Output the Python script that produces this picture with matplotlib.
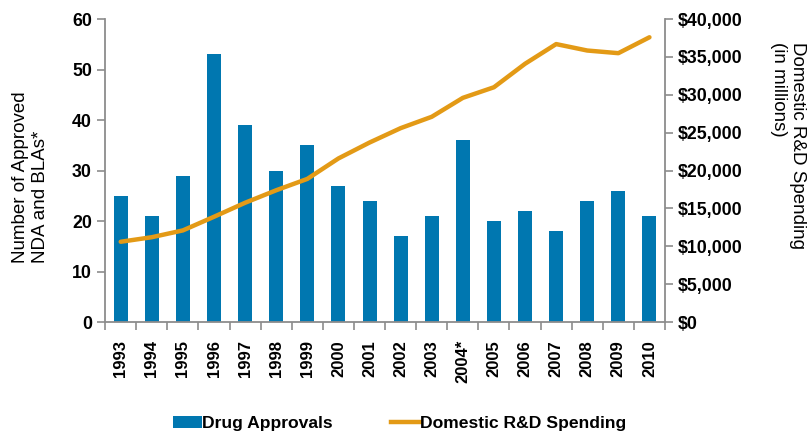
import matplotlib
matplotlib.use("Agg")
import matplotlib.pyplot as plt
import numpy as np
from matplotlib.lines import Line2D
from matplotlib.patches import Patch

# ── data ────────────────────────────────────────────────────────────────────
years = ["1993", "1994", "1995", "1996", "1997", "1998", "1999", "2000", "2001",
         "2002", "2003", "2004*", "2005", "2006", "2007", "2008", "2009", "2010"]
approvals = [25, 21, 29, 53, 39, 30, 35, 27, 24, 17, 21, 36, 20, 22, 18, 24, 26, 21]
rd_spending = [10600, 11200, 12100, 13900, 15750, 17400, 18900, 21600, 23700,
               25600, 27100, 29600, 31000, 34100, 36700, 35850, 35500, 37600]

BLUE = "#0077B0"
ORANGE = "#E39A16"
GREY = "#8C8C8C"

plt.rcParams["font.family"] = ["Liberation Sans", "DejaVu Sans"]

fig = plt.figure(figsize=(8.09, 4.34), dpi=100)
ax = fig.add_axes([0.130, 0.258, 0.692, 0.698])
ax2 = ax.twinx()

x = np.arange(len(years))
ax.bar(x, approvals, width=0.45, color=BLUE, zorder=2)
ax2.plot(x, rd_spending, color=ORANGE, lw=3.2, solid_capstyle="round", zorder=3)

ax.set_xlim(-0.5, len(years) - 0.5)
ax.set_ylim(0, 60)
ax2.set_ylim(0, 40000)
ax.set_yticks(range(0, 61, 10))
ax2.set_yticks(range(0, 40001, 5000))
ax2.set_yticklabels([f"${v:,}" for v in range(0, 40001, 5000)])

# category ticks on boundaries, labels centred under bars
ax.set_xticks(np.arange(-0.5, len(years), 1.0))
ax.set_xticklabels([])
ax.set_xticks(x, minor=True)
ax.set_xticklabels(years, minor=True, rotation=90, fontweight="bold", fontsize=12)
ax.tick_params(axis="x", which="minor", length=0, pad=13)
ax.tick_params(axis="x", which="major", length=6, color=GREY, width=1.2)

for a in (ax, ax2):
    a.spines["top"].set_visible(False)
    for s in ("left", "right", "bottom"):
        a.spines[s].set_color(GREY)
        a.spines[s].set_linewidth(1.3)
    a.tick_params(axis="y", length=6, color=GREY, width=1.2, labelsize=12.8)
    for lbl in a.get_yticklabels():
        lbl.set_fontweight("bold")
ax.spines["right"].set_visible(False)
ax2.spines["left"].set_visible(False)
ax2.spines["bottom"].set_visible(False)

fig.text(0.038, 0.394, "Number of Approved\nNDA and BLAs*", rotation=90,
         ha="center", va="bottom", multialignment="left", fontsize=13.5)
fig.text(0.974, 0.903, "Domestic R&D Spending\n(in millions)", rotation=270,
         ha="center", va="top", multialignment="left", fontsize=13.5)

handles = [Patch(fc=BLUE, ec="none", label="Drug Approvals"),
           Line2D([0], [0], color=ORANGE, lw=3.2, label="Domestic R&D Spending")]
fig.legend(handles=handles, loc="center", bbox_to_anchor=(0.494, 0.025),
           ncol=2, frameon=False, handlelength=1.65, handletextpad=0.0,
           columnspacing=3.35, prop={"weight": "bold", "size": 12.6})

fig.savefig("out.png", dpi=100)
